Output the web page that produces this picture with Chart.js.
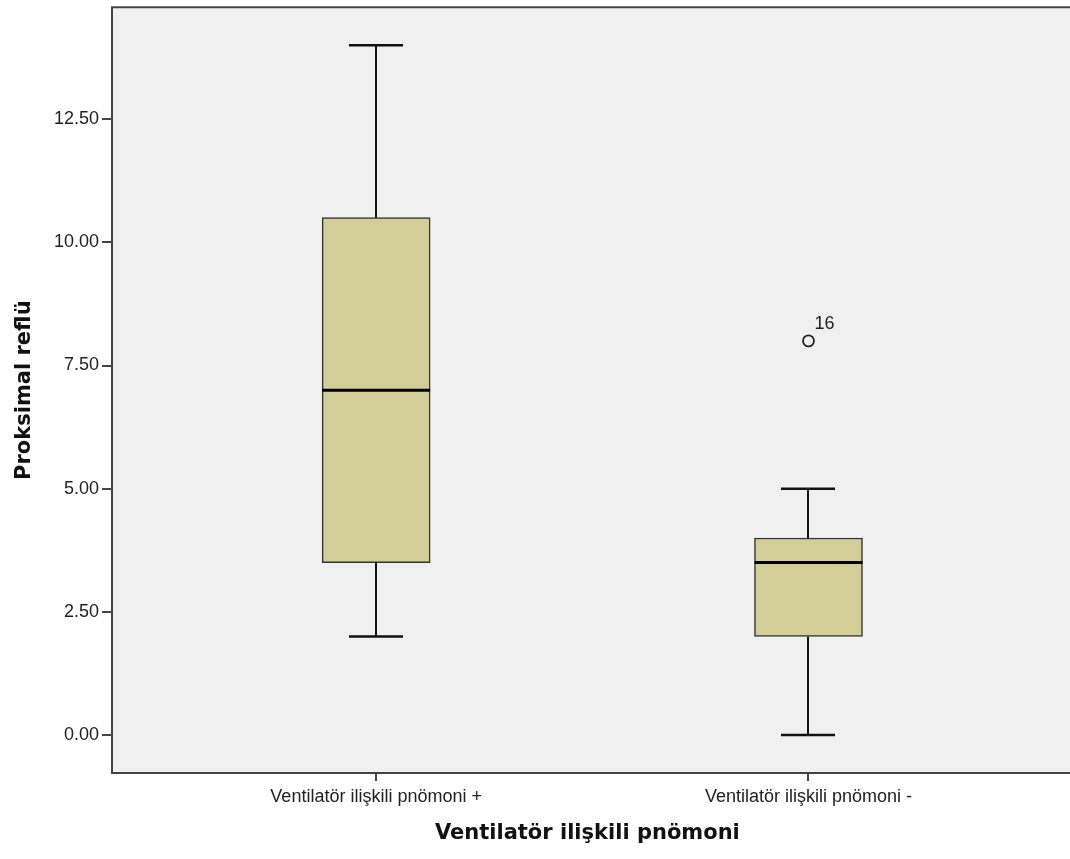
<!DOCTYPE html>
<html>
<head>
<meta charset="utf-8">
<script src="https://cdn.jsdelivr.net/npm/chart.js@4/dist/chart.umd.min.js"></script>
<style>
  html, body { margin: 0; padding: 0; background: #ffffff; }
  #wrap { width: 1070px; height: 859px; }
</style>
</head>
<body>
<div id="wrap"><canvas id="c" width="1070" height="859"></canvas></div>
<script>
// Groups on the x axis
const categories = ['Ventilatör ilişkili pnömoni +', 'Ventilatör ilişkili pnömoni -'];
// Five-number summaries per group
const whiskerLow  = [2.0, 0.0];
const quartile1   = [3.5, 2.0];
const medians     = [7.0, 3.5];
const quartile3   = [10.5, 4.0];
const whiskerHigh = [14.0, 5.0];
// Outliers: group index, value, case label
const outlierGroup = [1];
const outlierValue = [8.0];
const outlierLabel = ['16'];
// Y axis tick values
const yTicks = [0, 2.5, 5, 7.5, 10, 12.5];

const BOX_W = 108;   // box width in px
const CAP_W = 54;    // whisker cap width in px
const SANS = '"Liberation Sans", Arial, sans-serif';
const TITLE = '"DejaVu Sans", Verdana, sans-serif';

const frame = {
  id: 'frame',
  beforeDraw(chart) {
    const { ctx, chartArea: a } = chart;
    ctx.save();
    ctx.fillStyle = '#f0f0f0';
    ctx.fillRect(a.left, a.top, a.right - a.left + 20, a.bottom - a.top);
    ctx.strokeStyle = '#444444';
    ctx.lineWidth = 2;
    ctx.beginPath();
    ctx.moveTo(a.right + 20, a.top);
    ctx.lineTo(a.left, a.top);
    ctx.lineTo(a.left, a.bottom);
    ctx.lineTo(a.right + 20, a.bottom);
    ctx.stroke();
    ctx.restore();
  }
};

const whiskers = {
  id: 'whiskers',
  beforeDatasetsDraw(chart) {
    const { ctx, scales: { x, y } } = chart;
    ctx.save();
    ctx.strokeStyle = '#111111';
    categories.forEach((_, i) => {
      const cx = Math.round(x.getPixelForValue(i));
      const lo = y.getPixelForValue(whiskerLow[i]);
      const q1 = y.getPixelForValue(quartile1[i]);
      const q3 = y.getPixelForValue(quartile3[i]);
      const hi = y.getPixelForValue(whiskerHigh[i]);
      ctx.lineWidth = 2;
      ctx.beginPath();
      ctx.moveTo(cx, hi); ctx.lineTo(cx, q3);
      ctx.moveTo(cx, q1); ctx.lineTo(cx, lo);
      ctx.stroke();
      ctx.lineWidth = 2.5;
      ctx.beginPath();
      ctx.moveTo(cx - CAP_W / 2, hi); ctx.lineTo(cx + CAP_W / 2, hi);
      ctx.moveTo(cx - CAP_W / 2, lo); ctx.lineTo(cx + CAP_W / 2, lo);
      ctx.stroke();
    });
    ctx.restore();
  },
  afterDatasetsDraw(chart) {
    const { ctx, scales: { x, y } } = chart;
    ctx.save();
    ctx.strokeStyle = '#000000';
    ctx.lineWidth = 3;
    categories.forEach((_, i) => {
      const cx = x.getPixelForValue(i);
      const m = y.getPixelForValue(medians[i]);
      ctx.beginPath();
      ctx.moveTo(cx - BOX_W / 2, m); ctx.lineTo(cx + BOX_W / 2, m);
      ctx.stroke();
    });
    // case labels next to outliers
    ctx.fillStyle = '#222222';
    ctx.font = '18px ' + SANS;
    ctx.textAlign = 'left';
    ctx.textBaseline = 'middle';
    outlierValue.forEach((v, k) => {
      const px = x.getPixelForValue(outlierGroup[k]);
      const py = y.getPixelForValue(v);
      ctx.fillText(outlierLabel[k], px + 6, py - 17);
    });
    ctx.restore();
  }
};

new Chart(document.getElementById('c'), {
  data: {
    datasets: [
      {
        type: 'bar',
        data: categories.map((_, i) => ({ x: i, y: [quartile1[i], quartile3[i]] })),
        backgroundColor: '#d3ce97',
        borderColor: '#333333',
        borderWidth: 1.5,
        borderSkipped: false,
        barThickness: BOX_W
      },
      {
        type: 'scatter',
        data: outlierValue.map((v, k) => ({ x: outlierGroup[k], y: v })),
        pointStyle: 'circle',
        pointRadius: 5.5,
        pointBorderWidth: 1.8,
        pointBackgroundColor: '#f0f0f0',
        pointBorderColor: '#222222'
      }
    ]
  },
  options: {
    responsive: false,
    animation: false,
    events: [],
    layout: { padding: { top: 7, right: 0, left: 0, bottom: 0 } },
    plugins: { legend: { display: false }, tooltip: { enabled: false } },
    scales: {
      x: {
        type: 'linear',
        offset: false,
        min: -0.611,
        max: 1.588,
        afterBuildTicks(s) { s.ticks = categories.map((_, i) => ({ value: i })); },
        afterFit(s) { s.height = 86; s.paddingLeft = 0; s.paddingRight = 0; },
        ticks: {
          callback: (v) => categories[v],
          color: '#222222',
          font: { family: SANS, size: 18 },
          padding: 5,
          maxRotation: 0,
          autoSkip: false
        },
        grid: { display: true, offset: false, drawOnChartArea: false, drawTicks: true, tickLength: 8, color: '#444444', lineWidth: 2 },
        border: { display: false },
        title: {
          display: true,
          text: 'Ventilatör ilişkili pnömoni',
          color: '#111111',
          font: { family: TITLE, size: 21, weight: 'bold' },
          padding: { top: 4, bottom: 13 }
        }
      },
      y: {
        type: 'linear',
        min: -0.77,
        max: 14.77,
        afterBuildTicks(s) { s.ticks = yTicks.map(v => ({ value: v })); },
        afterFit(s) { s.width = 112; s.paddingTop = 0; s.paddingBottom = 0; },
        ticks: {
          callback: (v) => Number(v).toFixed(2),
          color: '#222222',
          font: { family: SANS, size: 18 },
          padding: 3
        },
        grid: { display: true, drawOnChartArea: false, drawTicks: true, tickLength: 10, color: '#444444', lineWidth: 2 },
        border: { display: false },
        title: {
          display: true,
          text: 'Proksimal reflü',
          color: '#111111',
          font: { family: TITLE, size: 21, weight: 'bold' },
          padding: { top: 12, bottom: 4 }
        }
      }
    }
  },
  plugins: [frame, whiskers]
});
</script>
</body>
</html>
